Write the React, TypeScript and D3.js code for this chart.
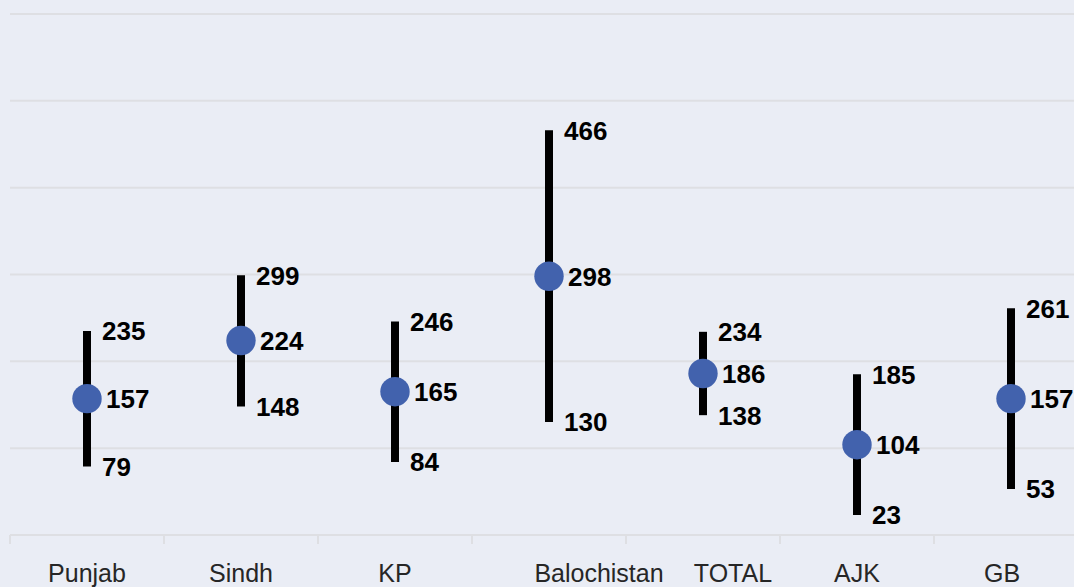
import * as d3 from "d3";

// ค่าข้อมูลจากภาพ
const categories = ["Punjab", "Sindh", "KP", "Balochistan", "TOTAL", "AJK", "GB"];
const lowValues = [79, 148, 84, 130, 138, 23, 53];
const midValues = [157, 224, 165, 298, 186, 104, 157];
const highValues = [235, 299, 246, 466, 234, 185, 261];
const gridValues = [0, 100, 200, 300, 400, 500, 600];

// ป้ายหมวดบางตัวในต้นฉบับไม่ได้อยู่กึ่งกลางพอดี
const labelNudge: Record<string, number> = { Balochistan: 50, TOTAL: 30, GB: -9 };

const width = 1074;
const height = 587;
const font = "'Liberation Sans', Arial, sans-serif";

const App = () => {
  const x = d3.scaleBand().domain(categories).range([10, 1088]).padding(0);
  const y = d3.scaleLinear().domain([0, 600]).range([535, 14]);
  const cx = (c: string) => (x(c) ?? 0) + x.bandwidth() / 2;

  const rows = categories.map((c, i) => ({
    c,
    lo: lowValues[i],
    mid: midValues[i],
    hi: highValues[i],
  }));

  return (
    <svg
      width={width}
      height={height}
      style={{ position: "fixed", left: 0, top: 0, display: "block" }}
    >
      <rect width={width} height={height} fill="#eaedf5" />

      {/* เส้นกริดแนวนอน */}
      {gridValues.map((v) => (
        <line
          key={v}
          x1={10}
          x2={width}
          y1={y(v)}
          y2={y(v)}
          stroke="#dedfe3"
          strokeWidth={2}
        />
      ))}

      {/* ขีดแบ่งหมวดใต้แกน */}
      {categories.map((c) => (
        <line
          key={c}
          x1={x(c)}
          x2={x(c)}
          y1={y(0)}
          y2={y(0) + 9}
          stroke="#dedfe3"
          strokeWidth={2}
        />
      ))}

      {rows.map((r) => (
        <g key={r.c}>
          <line
            x1={cx(r.c)}
            x2={cx(r.c)}
            y1={y(r.lo)}
            y2={y(r.hi)}
            stroke="#000"
            strokeWidth={8}
          />
          <circle cx={cx(r.c)} cy={y(r.mid)} r={14.7} fill="#4262ad" />
          <g fontFamily={font} fontWeight="bold" fontSize={26} fill="#000">
            <text x={cx(r.c) + 15} y={y(r.hi)} dy="0.36em">
              {r.hi}
            </text>
            <text x={cx(r.c) + 19} y={y(r.mid)} dy="0.36em">
              {r.mid}
            </text>
            <text x={cx(r.c) + 15} y={y(r.lo)} dy="0.36em">
              {r.lo}
            </text>
          </g>
        </g>
      ))}

      {categories.map((c) => (
        <text
          key={c}
          x={cx(c) + (labelNudge[c] ?? 0)}
          y={582}
          textAnchor="middle"
          fontFamily={font}
          fontSize={25}
          fill="#262626"
        >
          {c}
        </text>
      ))}
    </svg>
  );
};

export default App;
